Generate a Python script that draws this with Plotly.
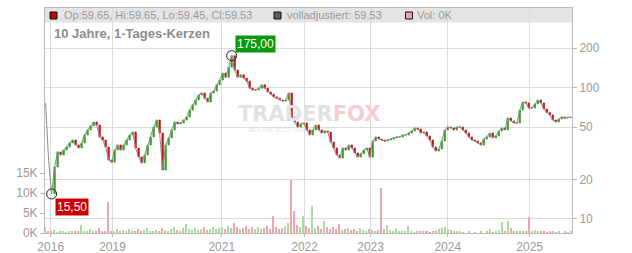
import plotly.graph_objects as go
import numpy as np

# ---------------- data ----------------
close = [
    76.3, 28.1, 15.5, 24.9, 32.4, 30.7, 33.5, 35.3, 37.9, 39.9,
    36.6, 34.7, 37.9, 43.6, 47.6, 51.0, 54.7, 51.9, 42.1, 39.9,
    35.3, 28.1, 27.1, 33.5, 36.6, 33.5, 36.6, 39.9, 43.6, 45.9,
    34.7, 29.6, 26.7, 30.7, 36.6, 42.1, 50.1, 56.7, 45.1, 23.6,
    36.6, 41.4, 47.6, 54.7, 52.9, 53.8, 56.7, 59.7, 67.5, 74.0,
    80.5, 88.0, 91.0, 83.0, 77.7, 91.0, 94.0, 105.0, 114.0, 129.0,
    120.0, 143.0, 175.0, 136.0, 120.0, 125.0, 118.0, 112.0, 99.0, 96.0,
    96.0, 99.0, 105.0, 99.0, 92.6, 89.0, 85.0, 83.0, 80.5, 79.0,
    80.5, 91.0, 59.7, 54.7, 50.1, 52.9, 53.8, 47.6, 43.6, 47.6,
    51.9, 47.6, 45.1, 46.7, 45.9, 38.5, 34.7, 30.7, 29.1, 34.7,
    33.5, 36.6, 34.7, 31.8, 29.6, 31.3, 33.5, 34.7, 29.6, 39.2,
    42.1, 40.6, 39.9, 39.2, 39.9, 40.6, 41.4, 42.1, 42.1, 43.6,
    43.6, 45.1, 46.7, 49.3, 48.4, 45.1, 45.9, 42.8, 39.9, 35.3,
    32.9, 34.1, 39.2, 47.6, 50.1, 49.3, 47.6, 50.1, 50.1, 47.6,
    45.1, 42.1, 39.9, 39.2, 37.9, 36.6, 40.6, 42.1, 45.1, 41.4,
    42.8, 46.7, 49.3, 47.6, 58.7, 55.7, 53.8, 53.8, 67.5, 77.7,
    76.3, 70.0, 70.0, 75.0, 80.5, 76.3, 68.7, 64.5, 61.9, 56.7,
    54.7, 57.7, 59.7, 58.7, 59.5, 59.53,
]
volume = [
    1600, 600, 300, 800, 200, 500, 300, 200, 600, 300,
    400, 300, 2000, 500, 300, 900, 400, 300, 1200, 500,
    300, 7800, 600, 400, 900, 500, 700, 400, 1100, 600,
    500, 900, 400, 700, 1300, 600, 500, 800, 400, 1200,
    700, 600, 1000, 1400, 800, 600, 1300, 2200, 900, 700,
    1200, 800, 1000, 1500, 700, 1100, 1400, 900, 1200, 1600,
    1000, 1800, 1300, 2600, 1500, 900, 1200, 1700, 1000, 1400,
    1100, 1600, 900, 1300, 1800, 1000, 4200, 1400, 900, 1200,
    1700, 2500, 13200, 5500, 2100, 1500, 4200, 1800, 1200, 6800,
    1300, 1700, 1000, 3100, 1500, 900, 1400, 1100, 2200, 800,
    1000, 1300, 700, 900, 600, 1200, 800, 500, 900, 700,
    600, 800, 11200, 900, 2000, 700, 500, 900, 400, 600,
    300, 1800, 500, 200, 600, 400, 300, 500, 200, 400,
    600, 1000, 1200, 1500, 900, 700, 400, 600, 300, 200,
    0, 300, 0, 200, 0, 600, 0, 300, 900, 200,
    400, 700, 2800, 300, 3100, 1200, 600, 400, 500, 300,
    400, 3900, 500, 700, 300, 400, 600, 200, 300, 400,
    200, 300, 0, 400, 200, 300,
]
year_labels = ["2016", "2019", "2021", "2022", "2023", "2024", "2025"]
year_pos = [1.7, 22.3, 58.7, 86.3, 108.3, 134.0, 161.3]
price_ticks = [10, 20, 50, 100, 200]
vol_ticks = [0, 5000, 10000, 15000]
vol_tick_text = ["0K", "5K", "10K", "15K"]
candle_start = 3  # first sessions are shown only by the adjusted line

# ---------------- derived ----------------
n = len(close)
idx = list(range(n))
opn = [close[0]] + close[:-1]
high = [max(o, c) for o, c in zip(opn, close)]
low = [min(o, c) for o, c in zip(opn, close)]
up = [c >= o for o, c in zip(opn, close)]
vol_colors = ["#a8dca0" if u else "#f0a4ac" for u in up]

FONT = "Liberation Sans, Arial, sans-serif"
W, H = 632, 253
L, R, T, B = 45, 60, 8, 20
PW, PH = W - L - R, H - T - B


def px_x(x):
    return (x - L) / PW


def px_y(y):
    return (H - B - y) / PH


fig = go.Figure()

fig.add_trace(go.Bar(
    x=idx, y=volume, marker=dict(color=vol_colors, line=dict(width=0)),
    width=0.5, yaxis="y", xaxis="x", showlegend=False, hoverinfo="skip"))

fig.add_trace(go.Scatter(
    x=idx, y=close, mode="lines", line=dict(color="#8c8c8c", width=1),
    yaxis="y2", showlegend=False, hoverinfo="skip"))

s = candle_start
fig.add_trace(go.Candlestick(
    x=idx[s:], open=opn[s:], high=high[s:], low=low[s:], close=close[s:],
    yaxis="y2",
    increasing=dict(line=dict(color="#33a320", width=0.7), fillcolor="#33a320"),
    decreasing=dict(line=dict(color="#c81414", width=0.7), fillcolor="#c81414"),
    whiskerwidth=0, showlegend=False, hoverinfo="skip"))

imax = int(np.argmax(close))
imin = int(np.argmin(close))
fig.add_trace(go.Scatter(
    x=[imax, imin], y=[close[imax], close[imin]], mode="markers",
    marker=dict(symbol="circle", size=10, color="rgba(0,0,0,0)",
                line=dict(color="#222", width=1)),
    yaxis="y2", showlegend=False, hoverinfo="skip"))

log_lo, log_hi = np.log10(7.82), np.log10(403.5)

fig.update_layout(
    template="none",
    width=W, height=H,
    margin=dict(l=L, r=R, t=T, b=B, pad=0, autoexpand=False),
    paper_bgcolor="white", plot_bgcolor="white",
    font=dict(family=FONT, size=12, color="#9a9a9a"),
    bargap=0,
    xaxis=dict(
        range=[-0.2, n - 0.6], tickvals=year_pos, ticktext=year_labels,
        showgrid=True, gridcolor="#dcdcdc", gridwidth=1,
        showline=True, linecolor="#bbbbbb", mirror=True,
        ticks="outside", ticklen=3, tickcolor="#bbbbbb",
        tickfont=dict(size=12, color="#9a9a9a"), automargin=False,
        rangeslider=dict(visible=False), zeroline=False, fixedrange=True),
    yaxis=dict(
        range=[0, 56250], tickvals=vol_ticks, ticktext=vol_tick_text,
        side="left", showgrid=False, zeroline=False,
        showline=True, linecolor="#bbbbbb", automargin=False,
        ticks="outside", ticklen=4, tickcolor="#bbbbbb",
        tickfont=dict(size=12, color="#9a9a9a")),
    yaxis2=dict(
        type="log", range=[log_lo, log_hi], overlaying="y", side="right",
        tickvals=price_ticks, ticktext=[str(v) for v in price_ticks],
        showgrid=True, gridcolor="#dcdcdc", gridwidth=1, zeroline=False,
        showline=True, linecolor="#bbbbbb", automargin=False,
        ticks="outside", ticklen=4, tickcolor="#bbbbbb",
        tickfont=dict(size=12, color="#9a9a9a")),
)

shapes = [
    dict(type="rect", xref="paper", yref="paper", x0=0, x1=1,
         y0=px_y(22.5), y1=1, fillcolor="#e4e4e4", line=dict(width=0),
         layer="below"),
]
for x0, col in [(50, "#b01010"), (274, "#606060"), (405.5, "#f0a4b0")]:
    shapes.append(dict(type="rect", xref="paper", yref="paper",
                       x0=px_x(x0), x1=px_x(x0 + 7), y0=px_y(19), y1=px_y(12),
                       fillcolor=col, line=dict(color="#111", width=1)))
fig.update_layout(shapes=shapes)

annotations = [
    dict(text="Op:59.65, Hi:59.65, Lo:59.45, Cl:59.53", x=px_x(62), y=px_y(15.5)),
    dict(text="volladjustiert: 59.53", x=px_x(285), y=px_y(15.5)),
    dict(text="Vol: 0K", x=px_x(415), y=px_y(15.5)),
]
anns = []
for a in annotations:
    anns.append(dict(xref="paper", yref="paper", xanchor="left", yanchor="middle",
                     showarrow=False, font=dict(size=11, color="#9a9a9a", family=FONT),
                     **a))
anns.append(dict(text="<b>10 Jahre, 1-Tages-Kerzen</b>", xref="paper", yref="paper",
                 x=px_x(52), y=px_y(33), xanchor="left", yanchor="middle",
                 showarrow=False, font=dict(size=13, color="#8c8c8c", family=FONT)))
# watermark
anns.append(dict(text="<b><span style='color:#e2e2e2'>TRADER</span>"
                      "<span style='color:#f7cccc'>FOX</span></b>",
                 xref="paper", yref="paper", x=px_x(309), y=px_y(114),
                 xanchor="center", yanchor="middle", showarrow=False,
                 font=dict(size=21, family="DejaVu Sans, sans-serif")))
anns.append(dict(text="REALTIME STOCK DATA", xref="paper", yref="paper",
                 x=px_x(278), y=px_y(130), xanchor="center", yanchor="middle",
                 showarrow=False, font=dict(size=5, color="#e6e6e6", family=FONT)))
# max / min labels
anns.append(dict(text=f"{close[imax]:.2f}".replace(".", ","), x=imax,
                 y=np.log10(close[imax]), xref="x", yref="y2",
                 xanchor="left", yanchor="bottom", xshift=3, yshift=3,
                 showarrow=False, bgcolor="#0a9a0a", borderpad=1,
                 font=dict(size=12, color="white", family=FONT)))
anns.append(dict(text=f"{close[imin]:.2f}".replace(".", ","), x=imin,
                 y=np.log10(close[imin]), xref="x", yref="y2",
                 xanchor="left", yanchor="top", xshift=3, yshift=-4,
                 showarrow=False, bgcolor="#cc0000", borderpad=1,
                 font=dict(size=12, color="white", family=FONT)))
fig.update_layout(annotations=anns)

fig.write_html("out.html")
